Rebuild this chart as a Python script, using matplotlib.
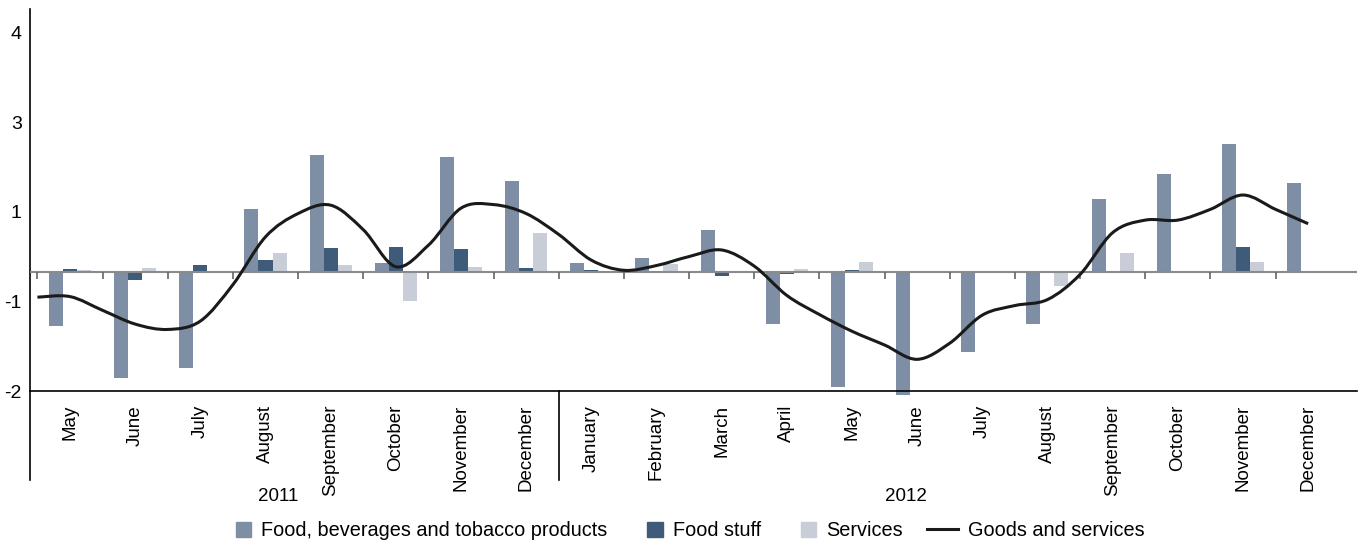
import numpy as np
import matplotlib.pyplot as plt
from matplotlib.patches import Rectangle, PathPatch
from matplotlib.path import Path
from matplotlib.lines import Line2D
from matplotlib.legend_handler import HandlerPatch

plt.rcParams['font.family'] = ['Liberation Sans', 'DejaVu Sans']

months = ['May', 'June', 'July', 'August', 'September', 'October', 'November', 'December',
          'January', 'February', 'March', 'April', 'May', 'June', 'July', 'August',
          'September', 'October', 'November', 'December']

food_bev = [-0.92, -1.78, -1.61, 1.04, 1.95, 0.14, 1.92, 1.51,
            0.14, 0.23, 0.70, -0.88, -1.94, -2.06, -1.34, -0.88,
            1.21, 1.63, 2.13, 1.48]
food_stuff = [0.04, -0.14, 0.11, 0.19, 0.40, 0.41, 0.38, 0.06,
              0.03, 0.01, -0.07, -0.04, 0.03, 0.0, 0.0, 0.0,
              0.0, 0.0, 0.41, 0.0]
services = [0.03, 0.06, 0.0, 0.31, 0.11, -0.49, 0.08, 0.64,
            0.0, 0.12, 0.0, 0.04, 0.16, 0.0, 0.0, -0.25,
            0.31, 0.0, 0.16, 0.0]

# goods and services line, read every half month (from half a month before May 2011)
goods_step = 0.5
goods_start = -0.5
goods = [-0.43, -0.42, -0.65, -0.88, -0.97, -0.83, -0.22, 0.58, 0.97, 1.11,
         0.70, 0.08, 0.44, 1.06, 1.12, 0.97, 0.62, 0.19, 0.02, 0.10,
         0.25, 0.36, 0.09, -0.40, -0.72, -1.00, -1.23, -1.47, -1.20, -0.73,
         -0.57, -0.47, -0.05, 0.65, 0.86, 0.86, 1.04, 1.28, 1.04, 0.80]

y_ticks = [-2, -0.5, 1, 2.5, 4]
y_labels = ['-2', '-1', '1', '3', '4']

years = ['2011', '2012']
year_x = [3.19, 12.83]

names = ['Food, beverages and tobacco products', 'Food stuff', 'Services', 'Goods and services']

c_fb = '#7d8ea5'
c_fs = '#3e5c7a'
c_sv = '#c9cdd8'
c_line = '#1a1a1a'

fig = plt.figure(figsize=(13.64, 5.42), dpi=100)
ax = fig.add_axes([30 / 1364, 151 / 542, 1327 / 1364, 382.4 / 542])

x = np.arange(len(months))
w = 0.215
ax.bar(x - w, food_bev, w, color=c_fb, clip_on=False, zorder=2)
ax.bar(x, food_stuff, w, color=c_fs, clip_on=False, zorder=2)
ax.bar(x + w, services, w, color=c_sv, clip_on=False, zorder=2)

# zero line with small ticks between months
ax.axhline(0, color='#8a8a8a', lw=1.5, zorder=3)
edges = x - 0.5
ax.plot(edges, np.zeros(len(edges)), ls='none', marker=3, ms=5, mew=1.2, color='#666666', zorder=3)

# smooth line (catmull-rom as cubic bezier)
gx = goods_start + goods_step * np.arange(len(goods))
pts = np.column_stack([gx, goods])
verts = [pts[0]]
codes = [Path.MOVETO]
n = len(pts)
for i in range(n - 1):
    p0 = pts[max(i - 1, 0)]
    p1 = pts[i]
    p2 = pts[i + 1]
    p3 = pts[min(i + 2, n - 1)]
    verts += [p1 + (p2 - p0) / 6, p2 - (p3 - p1) / 6, p2]
    codes += [Path.CURVE4] * 3
ax.add_patch(PathPatch(Path(verts, codes), fill=False, edgecolor=c_line, lw=2.2,
                       zorder=4, transform=ax.transData, capstyle='butt'))

ax.set_xlim(-0.614, 19.75)
ax.set_ylim(-2, 4.4)
ax.set_yticks(y_ticks)
ax.set_yticklabels(y_labels)
ax.set_xticks(x)
ax.set_xticklabels(months, rotation=90)
ax.tick_params(axis='x', length=0, pad=10, labelsize=13.5)
ax.tick_params(axis='y', length=0, pad=6, labelsize=14)

for s in ['top', 'right']:
    ax.spines[s].set_visible(False)
ax.spines['left'].set_linewidth(1.2)
ax.spines['bottom'].set_linewidth(1.2)

# left axis runs down past the month labels, and a divider between the years
ext = -0.233
ax.plot([0, 0], [0, ext], transform=ax.transAxes, color='black', lw=1.2, clip_on=False)
ax.plot([7.5, 7.5], [0, ext], transform=ax.get_xaxis_transform(), color='black', lw=1.2, clip_on=False)

for yr, xp in zip(years, year_x):
    ax.text(xp, -0.277, yr, transform=ax.get_xaxis_transform(), ha='center', va='center', fontsize=13.5)


def square_patch(legend, orig_handle, xdescent, ydescent, width, height, fontsize):
    return Rectangle((-xdescent + width - height, -ydescent), height, height)


handles = [Rectangle((0, 0), 1, 1, color=c_fb),
           Rectangle((0, 0), 1, 1, color=c_fs),
           Rectangle((0, 0), 1, 1, color=c_sv),
           Line2D([], [], color=c_line, lw=2.2)]
fig.legend(handles, names, loc='center', bbox_to_anchor=(0.5, 0.021), ncol=4, frameon=False,
           fontsize=14.3, handlelength=1.6, handleheight=0.8, handletextpad=0.5, columnspacing=1.2,
           handler_map={Rectangle: HandlerPatch(patch_func=square_patch)})

fig.savefig('out.png', dpi=100)
